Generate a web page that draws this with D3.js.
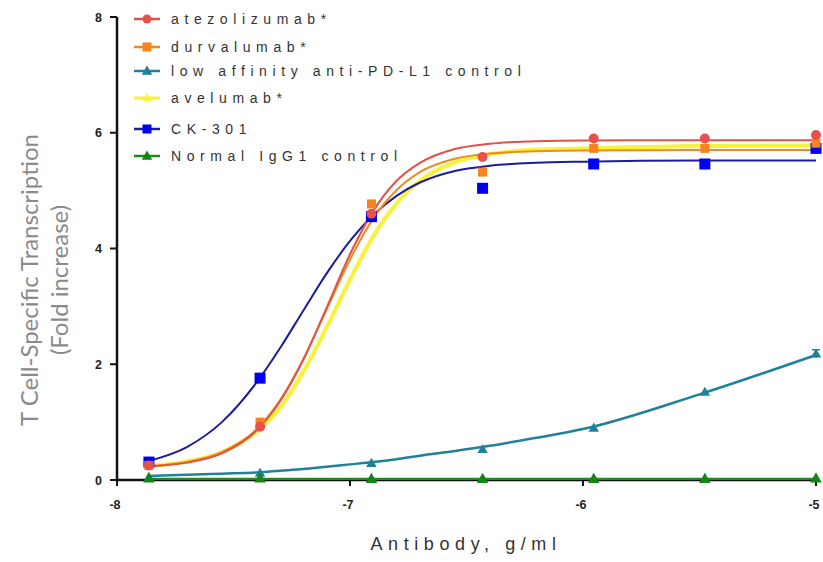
<!DOCTYPE html>
<html><head><meta charset="utf-8">
<script src="https://cdn.jsdelivr.net/npm/d3@7/dist/d3.min.js"></script>
<style>body{margin:0;background:#fff}svg{display:block}</style>
</head><body>
<svg id="c" width="823" height="562"></svg>
<script>
// ---- data ----
const doseLog = [-7.863, -7.386, -6.908, -6.431, -5.954, -5.477, -5.0];
const atezoPts = [0.25, 0.92, 4.6, 5.58, 5.9, 5.9, 5.96];
const durvaPts = [0.25, 1.0, 4.77, 5.32, 5.73, 5.73, 5.82];
const lowAffPts = [0.05, 0.12, 0.29, 0.53, 0.90, 1.52, 2.18];
const lowAffErr = [0, 0, 0, 0, 0, 0, 0.07];
const avelPts = [0.24, 0.9, 4.3, 5.6, 5.72, 5.72, 5.74];
const ck301Pts = [0.31, 1.76, 4.55, 5.04, 5.46, 5.46, 5.73];
const iggPts = [0.03, 0.03, 0.02, 0.02, 0.02, 0.02, 0.03];

// fitted curves
const fitLog = [-7.863, -7.7, -7.55, -7.4, -7.3, -7.2, -7.1, -7.0, -6.9, -6.8, -6.7, -6.55, -6.4, -6.2, -6.0, -5.5, -5.0];
const atezoFit = [0.235, 0.30, 0.46, 0.86, 1.36, 2.08, 2.98, 3.90, 4.65, 5.17, 5.48, 5.72, 5.81, 5.855, 5.866, 5.87, 5.87];
const durvaFit = [0.24, 0.31, 0.48, 0.88, 1.38, 2.09, 2.95, 3.81, 4.52, 5.01, 5.32, 5.55, 5.64, 5.68, 5.695, 5.70, 5.70];
const avelFit  = [0.24, 0.32, 0.48, 0.84, 1.25, 1.87, 2.64, 3.46, 4.21, 4.78, 5.17, 5.49, 5.63, 5.71, 5.73, 5.77, 5.78];
const ck301Fit = [0.33, 0.57, 1.00, 1.69, 2.28, 2.93, 3.57, 4.13, 4.58, 4.91, 5.14, 5.34, 5.43, 5.48, 5.50, 5.52, 5.52];
const lowAffFit = [0.07, 0.09, 0.11, 0.13, 0.16, 0.19, 0.23, 0.27, 0.31, 0.36, 0.42, 0.50, 0.59, 0.73, 0.88, 1.48, 2.16];
const iggFit = fitLog.map(() => 0.02);

const seriesNames = ["atezolizumab*", "durvalumab*", "low affinity anti-PD-L1 control", "avelumab*", "CK-301", "Normal IgG1 control"];
const xTicks = [-8, -7, -6, -5];
const yTicks = [0, 2, 4, 6, 8];

// ---- layout ----
const svg = d3.select("#c");
const x = d3.scaleLinear().domain([-8, -5]).range([117, 816]);
const y = d3.scaleLinear().domain([0, 8]).range([480, 17]);

const S = {
  avel:  {name: seriesNames[3], pts: avelPts, fit: avelFit, line: "#f7f23a", fill: "#f7f23a", shape: "none", lw: 4, size: 0},
  ck:    {name: seriesNames[4], pts: ck301Pts, fit: ck301Fit, line: "#1c1c9c", fill: "#0000ee", shape: "square", lw: 2, size: 11},
  low:   {name: seriesNames[2], pts: lowAffPts, fit: lowAffFit, line: "#21809a", fill: "#21809a", shape: "triangle", lw: 2.5, size: 9, err: lowAffErr},
  durva: {name: seriesNames[1], pts: durvaPts, fit: durvaFit, line: "#f08a1c", fill: "#f5841e", shape: "square", lw: 2, size: 9},
  atezo: {name: seriesNames[0], pts: atezoPts, fit: atezoFit, line: "#e2504a", fill: "#e8504c", shape: "circle", lw: 2, size: 5},
  igg:   {name: seriesNames[5], pts: iggPts, fit: iggFit, line: "#1b8c1b", fill: "#158515", shape: "triangle", lw: 2.2, size: 10}
};

// axes
const g = svg.append("g");
g.append("line").attr("x1", x(-8)).attr("x2", x(-5)).attr("y1", y(0)).attr("y2", y(0))
  .attr("stroke", "#111").attr("stroke-width", 2.5);
g.append("line").attr("x1", x(-8)).attr("x2", x(-8)).attr("y1", y(0)+1).attr("y2", y(8))
  .attr("stroke", "#111").attr("stroke-width", 2.5);
yTicks.forEach(t => {
  g.append("line").attr("x1", x(-8)-7).attr("x2", x(-8)).attr("y1", y(t)).attr("y2", y(t))
    .attr("stroke", "#111").attr("stroke-width", 2);
  g.append("text").attr("x", x(-8)-15).attr("y", y(t)+4.5).attr("text-anchor", "end")
    .attr("font-family", "Liberation Sans, Arial, sans-serif").attr("font-weight", "bold")
    .attr("font-size", 12.5).attr("fill", "#222").text(t);
});
xTicks.forEach(t => {
  g.append("line").attr("x1", x(t)).attr("x2", x(t)).attr("y1", y(0)).attr("y2", y(0)+6)
    .attr("stroke", "#111").attr("stroke-width", 2);
  g.append("text").attr("x", x(t)-2).attr("y", y(0)+29).attr("text-anchor", "middle")
    .attr("font-family", "Liberation Sans, Arial, sans-serif").attr("font-weight", "bold")
    .attr("font-size", 12.5).attr("fill", "#222").text(String(t));
});

// axis titles
svg.append("text").attr("x", 466).attr("y", 550).attr("text-anchor", "middle")
  .attr("font-family", "Liberation Sans, Arial, sans-serif").attr("font-size", 18)
  .attr("letter-spacing", "5.6px").attr("fill", "#333").text("Antibody, g/ml");
const yl = svg.append("text").attr("transform", "translate(38,280) rotate(-90)")
  .attr("text-anchor", "middle").attr("font-family", "Lato, sans-serif")
  .attr("font-size", 24).attr("fill", "#8a8a8a");
yl.append("tspan").attr("x", 0).attr("y", 0).text("T Cell-Specific Transcription");
yl.append("tspan").attr("x", 0).attr("y", 30).text("(Fold increase)");

// curves
const lineGen = d3.line().x(d => x(d[0])).y(d => y(d[1])).curve(d3.curveMonotoneX);
[S.avel, S.ck, S.low, S.durva, S.atezo, S.igg].forEach(s => {
  svg.append("path").datum(fitLog.map((v, i) => [v, s.fit[i]]))
    .attr("d", lineGen).attr("fill", "none").attr("stroke", s.line).attr("stroke-width", s.lw);
});

function marker(sel, shape, size, fill) {
  if (shape === "circle") sel.append("circle").attr("r", size).attr("fill", fill);
  else if (shape === "square") sel.append("rect").attr("x", -size/2).attr("y", -size/2)
    .attr("width", size).attr("height", size).attr("fill", fill);
  else if (shape === "triangle") sel.append("path")
    .attr("d", `M0,${-size*0.6}L${size*0.58},${size*0.42}L${-size*0.58},${size*0.42}Z`).attr("fill", fill);
}

// error bars & markers
[S.low, S.igg, S.ck, S.durva, S.atezo].forEach(s => {
  doseLog.forEach((xv, i) => {
    if (s.err && s.err[i] > 0) {
      const e = s.err[i];
      svg.append("line").attr("x1", x(xv)).attr("x2", x(xv)).attr("y1", y(s.pts[i]+e)).attr("y2", y(s.pts[i]-e))
        .attr("stroke", s.line).attr("stroke-width", 1.5);
      svg.append("line").attr("x1", x(xv)-4).attr("x2", x(xv)+4).attr("y1", y(s.pts[i]+e)).attr("y2", y(s.pts[i]+e))
        .attr("stroke", s.line).attr("stroke-width", 1.5);
    }
    const m = svg.append("g").attr("transform", `translate(${x(xv)},${y(s.pts[i])})`);
    marker(m, s.shape, s.size, s.fill);
  });
});

// legend
const legendY = [19, 47, 71, 98, 129, 156];
const legendOrder = [S.atezo, S.durva, S.low, S.avel, S.ck, S.igg];
legendOrder.forEach((s, i) => {
  const ly = legendY[i];
  svg.append("line").attr("x1", 134).attr("x2", 160).attr("y1", ly).attr("y2", ly)
    .attr("stroke", s.line).attr("stroke-width", s.shape === "none" ? 3 : 2.5);
  const m = svg.append("g").attr("transform", `translate(147,${ly})`);
  if (s.shape === "none") marker(m, "triangle", 8, s.fill);
  else marker(m, s.shape, s.shape === "circle" ? 4.5 : 9, s.fill);
  svg.append("text").attr("x", 171).attr("y", ly+5)
    .attr("font-family", "Liberation Sans, Arial, sans-serif").attr("font-size", 14)
    .attr("letter-spacing", "5.6px").attr("fill", "#333").text(s.name);
});
</script>
</body></html>
